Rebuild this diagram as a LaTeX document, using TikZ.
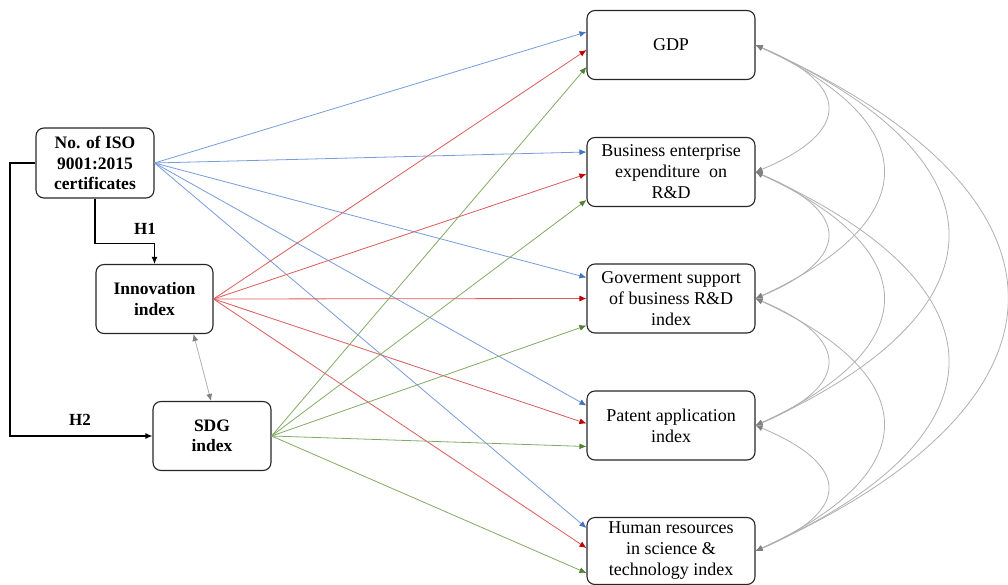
\documentclass[tikz,border=0pt]{standalone}
\usepackage{fontspec}
\setmainfont{Liberation Serif}
\usetikzlibrary{arrows.meta,calc}
\definecolor{cblue}{RGB}{68,114,196}
\definecolor{cbluel}{RGB}{120,155,220}
\definecolor{cred}{RGB}{192,0,0}
\definecolor{credl}{RGB}{220,90,90}
\definecolor{cgreen}{RGB}{84,130,53}
\definecolor{cgreenl}{RGB}{130,170,100}
\definecolor{cgray}{RGB}{128,128,128}
\definecolor{cgrayl}{RGB}{175,175,175}
\begin{document}
\begin{tikzpicture}[x=1pt,y=-1pt,
  rbox/.style={draw=black!85, line width=1.1pt, rounded corners=8pt, align=center,
    font=\fontsize{18}{21}\selectfont, inner sep=1pt, minimum width=168pt, minimum height=69pt},
  lbox/.style={draw=black!85, line width=1.1pt, rounded corners=8pt, align=center,
    font=\bfseries\fontsize{17.5}{20.5}\selectfont, inner sep=1pt, minimum width=117pt, minimum height=69pt},
  lab/.style={font=\bfseries\fontsize{17}{18}\selectfont, inner sep=1pt},
  harrow/.style={draw=black, line width=1.1pt, -{Latex[length=7pt,width=6pt]}},
  barrow/.style={draw=cbluel, line width=0.8pt, -{Latex[length=7pt,width=6pt,fill=cblue,color=cblue]}},
  rarrow/.style={draw=credl, line width=0.8pt, -{Latex[length=7pt,width=6pt,fill=cred,color=cred]}},
  garrow/.style={draw=cgreenl, line width=0.8pt, -{Latex[length=7pt,width=6pt,fill=cgreen,color=cgreen]}},
  gcurve/.style={draw=cgrayl, line width=0.8pt, {Latex[length=7pt,width=6pt,fill=cgray,color=cgray]}-{Latex[length=7pt,width=6pt,fill=cgray,color=cgray]}}
]
\useasboundingbox (0,0) rectangle (1008,585);

% right boxes
\node[rbox] (gdp) at (671,45) {GDP};
\node[rbox] (bee) at (671,172) {Business enterprise\\expenditure~ on\\R\&D};
\node[rbox] (gov) at (671,298.5) {Goverment support\\of business R\&D\\index};
\node[rbox] (pat) at (671,425.5) {Patent application\\index};
\node[rbox, minimum height=67pt] (hr) at (671,551) {Human resources\\in science \&\\technology index};

% left boxes
\node[lbox, minimum width=118pt, minimum height=70pt] (iso) at (95,163) {No. of ISO\\9001:2015\\certificates};
\node[lbox] (inno) at (154.5,299) {Innovation\\index};
\node[lbox, minimum width=118pt] (sdg) at (212,436) {SDG\\index};

% hypotheses
\draw[harrow] (iso.south) -- ++(0,45) -| (inno.north);
\node[lab] (h1) at (145,229) {H1};
\coordinate (h2corner) at (10,163);
\draw[harrow] (iso.west) -- (h2corner) |- (sdg.west);
\node[lab] (h2) at (80,420) {H2};

% gray double arrow between innovation and SDG
\draw[gcurve] ([xshift=39pt]inno.south) -- ([xshift=-1pt]sdg.north);

% blue arrows from ISO
\foreach \t/\s in {gdp/13, bee/20, gov/21, pat/20, hr/23}
  \draw[barrow] (iso.east) -- ([yshift=\s pt]\t.west);
% red arrows from innovation
\foreach \t/\s in {gdp/-5, bee/-2, gov/0, pat/2, hr/3}
  \draw[rarrow] (inno.east) -- ([yshift=\s pt]\t.west);
% green arrows from SDG
\foreach \t/\s in {gdp/-22, bee/-28, gov/-27, pat/-21, hr/-22}
  \draw[garrow] (sdg.east) -- ([yshift=\s pt]\t.west);

% gray covariance curves
\foreach \a/\b in {gdp/bee, bee/gov, gov/pat, pat/hr}
  \draw[gcurve] (\a.east) .. controls ([xshift=96pt,yshift=-40pt]\a.east) and ([xshift=96pt,yshift=40pt]\b.east) .. (\b.east);
\foreach \a/\b in {gdp/gov, bee/pat, gov/hr}
  \draw[gcurve] (\a.east) .. controls ([xshift=170pt,yshift=-78pt]\a.east) and ([xshift=170pt,yshift=78pt]\b.east) .. (\b.east);
\foreach \a/\b in {gdp/pat, bee/hr}
  \draw[gcurve] (\a.east) .. controls ([xshift=256pt,yshift=-115pt]\a.east) and ([xshift=256pt,yshift=115pt]\b.east) .. (\b.east);
\draw[gcurve] (gdp.east) .. controls ([xshift=335pt,yshift=-150pt]gdp.east) and ([xshift=335pt,yshift=150pt]hr.east) .. (hr.east);
\end{tikzpicture}
\end{document}
